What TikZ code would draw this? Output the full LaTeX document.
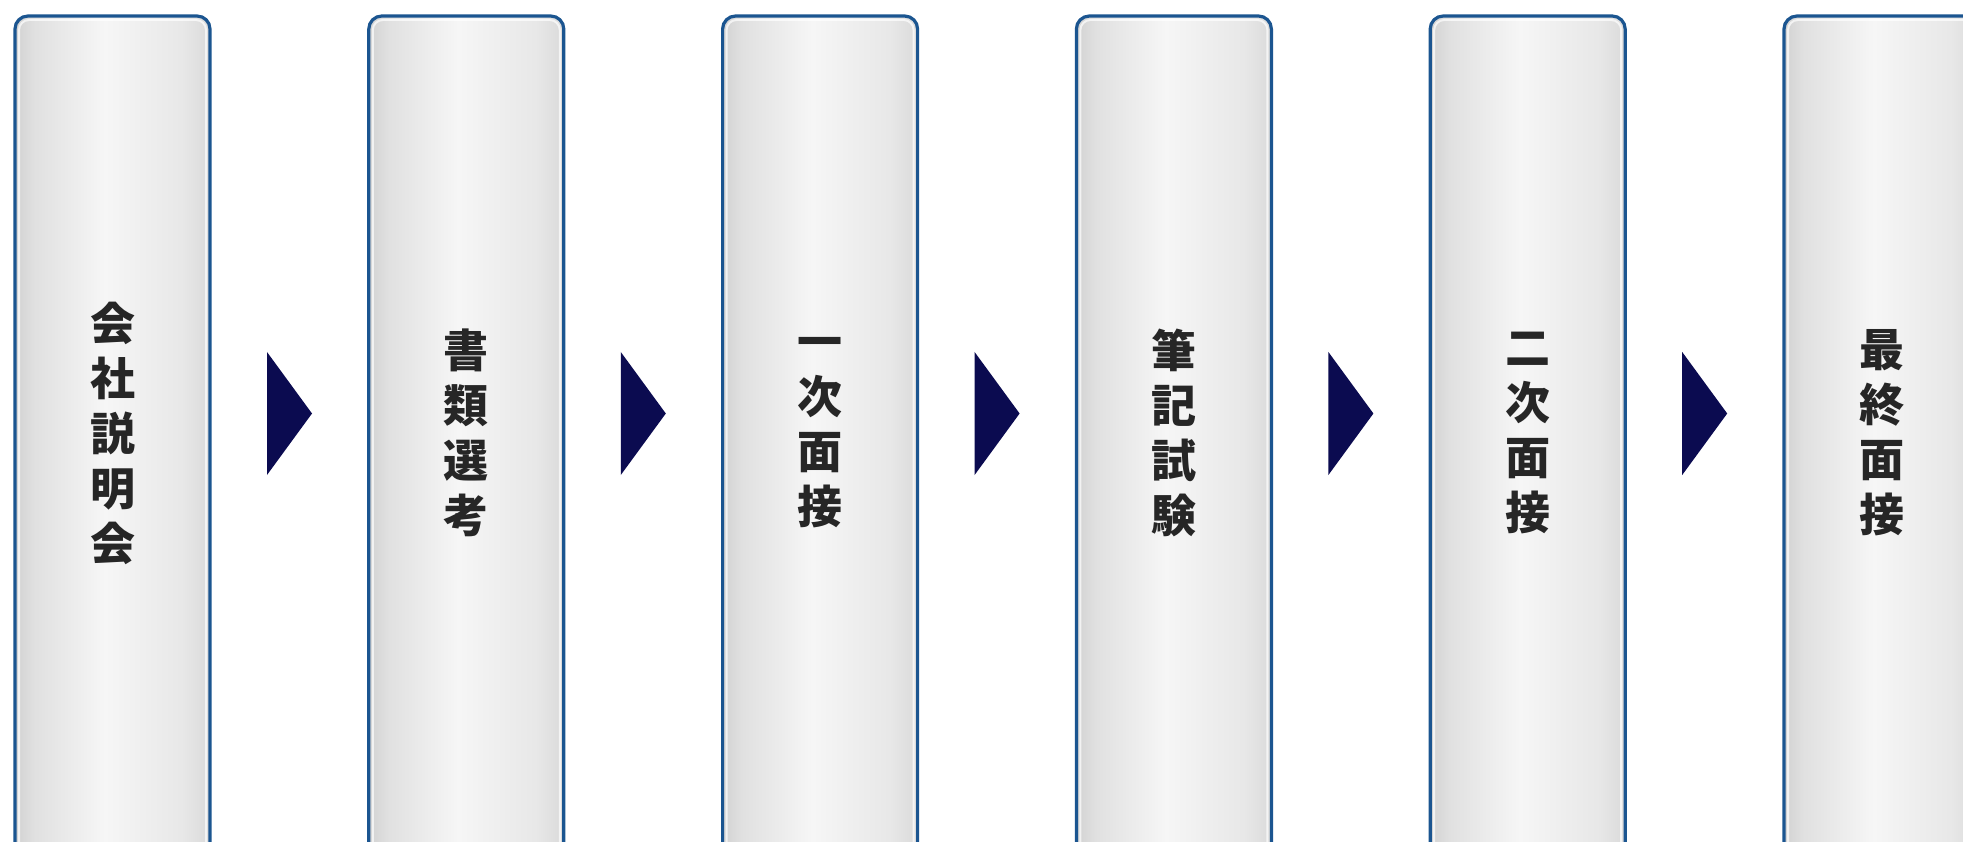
\documentclass[tikz,border=0pt]{standalone}
\usepackage{fontspec}
\newfontfamily\jp{Noto Sans CJK JP}
\usetikzlibrary{calc}
\definecolor{boxedge}{HTML}{1B5590}
\definecolor{arrowfill}{HTML}{0B0B50}
\definecolor{txt}{HTML}{262626}
\definecolor{g1}{HTML}{D2D2D2}
\definecolor{g2}{HTML}{F6F6F6}
\definecolor{g3}{HTML}{DADADA}
\pgfdeclarehorizontalshading{boxshade}{100bp}{color(0bp)=(g1); color(25bp)=(g1); color(30bp)=(g1!60!g2); color(48bp)=(g2); color(68bp)=(g1!40!g2); color(75bp)=(g3); color(100bp)=(g3)}
\tikzset{
  stagebox/.style={draw=boxedge, line width=3.2pt, rounded corners=13pt, shading=boxshade},
  stagehl/.style={draw=white, opacity=0.7, line width=2pt, rounded corners=10pt},
  stagetext/.style={font=\jp\bfseries\fontsize{45}{55}\selectfont, text=txt, align=center, inner sep=0pt},
  stagearrow/.style={fill=arrowfill, draw=none}
}
\begin{document}
\begin{tikzpicture}[x=1pt,y=-1pt]
\useasboundingbox (0,0) rectangle (1963,842);
\clip (0,0) rectangle (1963,842);
\fill[white] (0,0) rectangle (1963,842);
\foreach \i/\t in {0/{会\\社\\説\\明\\会},1/{書\\類\\選\\考},2/{一\\次\\面\\接},3/{筆\\記\\試\\験},4/{二\\次\\面\\接},5/{最\\終\\面\\接}}{
  \pgfmathsetmacro{\xl}{15+353.8*\i}
  \path[stagebox] (\xl,16) rectangle ++(195,900);
  \draw[stagehl] (\xl+4,20) rectangle ++(187,892);
  \node[stagetext] (s\i) at (\xl+97.5,433) {\t};
}
\foreach \i in {0,...,4}{
  \pgfmathsetmacro{\xa}{267+353.8*\i}
  \coordinate (a\i) at (\xa,352);
  \fill[stagearrow] (a\i) -- ++(45,61.5) -- ++(-45,61.5) -- cycle;
}
\end{tikzpicture}
\end{document}
